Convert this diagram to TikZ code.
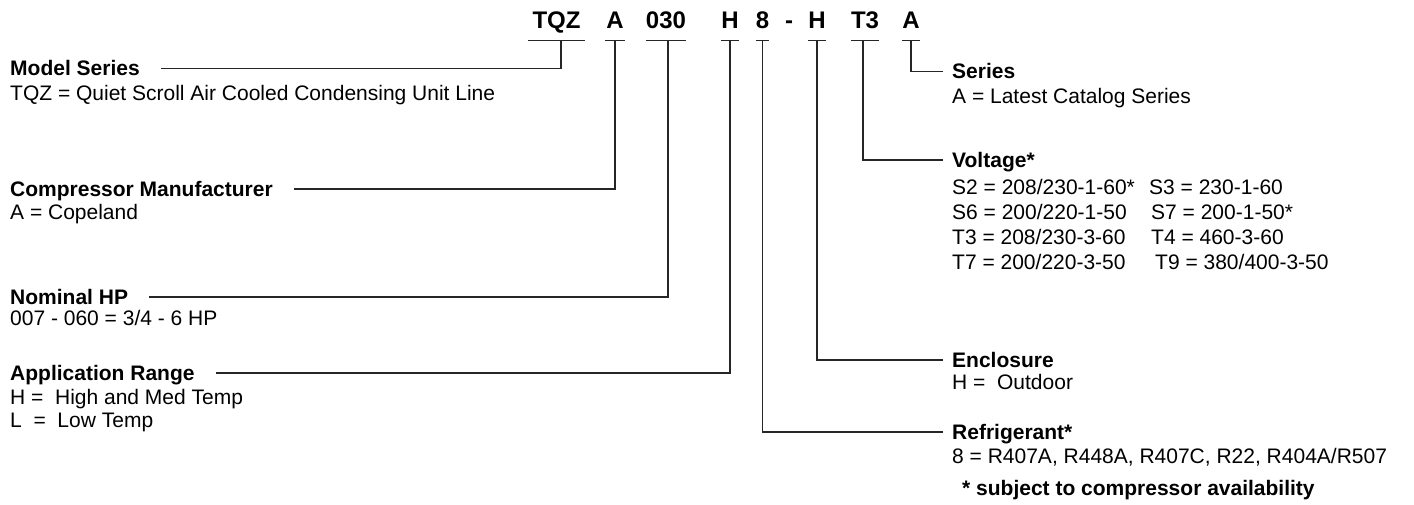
\documentclass[tikz,border=0pt]{standalone}
\usepackage{fontspec}
\setmainfont{Liberation Sans}
\tikzset{
  codetxt/.style={font=\fontsize{24}{24}\selectfont\bfseries,inner sep=0pt,anchor=base,text depth=11.5pt},
  headtxt/.style={font=\fontsize{21}{24}\selectfont\bfseries,inner sep=0pt,anchor=base west,text height=15pt,text depth=0pt},
  valtxt/.style={font=\fontsize{21}{24}\selectfont,inner sep=0pt,anchor=base west},
  lead/.style={line width=1.3pt,draw=black!85},
}
\begin{document}
\begin{tikzpicture}[x=1pt,y=-1pt]
\useasboundingbox (0,0) rectangle (1414,505);
% model number
\node[codetxt,minimum width=57pt] (cTQZ) at (556.5,28.5) {TQZ};
\node[codetxt,minimum width=20pt] (cMfr) at (615,28.5) {A};
\node[codetxt,minimum width=38pt] (cHP) at (666,28.5) {030};
\node[codetxt,minimum width=14pt] (cApp) at (730,28.5) {H};
\node[codetxt,minimum width=13pt] (cRef) at (762.5,28.5) {8};
\node[codetxt] (cDash) at (789,28.5) {-};
\node[codetxt,minimum width=16pt] (cEnc) at (817,28.5) {H};
\node[codetxt,minimum width=24pt] (cVolt) at (865,28.5) {T3};
\node[codetxt,minimum width=18pt] (cSer) at (911,28.5) {A};
\foreach \c in {cTQZ,cMfr,cHP,cApp,cRef,cEnc,cVolt,cSer}{\draw[lead] (\c.south west)--(\c.south east);}
% left column
\node[headtxt] (hModel) at (10,76) {Model Series};
\node[valtxt] (vModel) at (10,101) {TQZ = Quiet Scroll Air Cooled Condensing Unit Line};
\node[headtxt] (hMfr) at (10,196.5) {Compressor Manufacturer};
\node[valtxt] (vMfr) at (10,219.5) {A = Copeland};
\node[headtxt] (hHP) at (10,304.5) {Nominal HP};
\node[valtxt] (vHP) at (10,325.5) {007 - 060 = 3/4 - 6 HP};
\node[headtxt] (hApp) at (10,380.5) {Application Range};
\node[valtxt] (vAppH) at (10,404.5) {H =\ \ High and Med Temp};
\node[valtxt] (vAppL) at (10,427.5) {L\ \ =\ \ Low Temp};
% right column
\node[headtxt] (hSer) at (952,79) {Series};
\node[valtxt] (vSer) at (952,103.5) {A = Latest Catalog Series};
\node[headtxt] (hVolt) at (952,167.5) {Voltage*};
\node[valtxt] (vS2) at (952,194.5) {S2 = 208/230-1-60*};\node[valtxt] (vS3) at (1149,194.5) {S3 = 230-1-60};
\node[valtxt] (vS6) at (952,219.5) {S6 = 200/220-1-50};\node[valtxt] (vS7) at (1151,219.5) {S7 = 200-1-50*};
\node[valtxt] (vT3) at (952,244.5) {T3 = 208/230-3-60};\node[valtxt] (vT4) at (1151,244.5) {T4 = 460-3-60};
\node[valtxt] (vT7) at (952,269.5) {T7 = 200/220-3-50};\node[valtxt] (vT9) at (1155,269.5) {T9 = 380/400-3-50};
\node[headtxt] (hEnc) at (952,367.5) {Enclosure};
\node[valtxt] (vEnc) at (952,389.5) {H =\ \ Outdoor};
\node[headtxt] (hRef) at (952,439.5) {Refrigerant*};
\node[valtxt] (vRef) at (952,463.5) {8 = R407A, R448A, R407C, R22, R404A/R507};
\node[headtxt] (hNote) at (962,495.5) {* subject to compressor availability};
% leaders
\draw[lead,shorten >=21pt] ([xshift=4.5pt]cTQZ.south) |- (hModel.east);
\draw[lead,shorten >=21pt] (cMfr.south) |- (hMfr.east);
\draw[lead,shorten >=21pt] ([xshift=2pt]cHP.south) |- (hHP.east);
\draw[lead,shorten >=21pt] (cApp.south) |- (hApp.east);
\draw[lead,shorten >=9pt] (cSer.south) |- (hSer.west);
\draw[lead,shorten >=9pt] ([xshift=-2pt]cVolt.south) |- (hVolt.west);
\draw[lead,shorten >=9pt] (cEnc.south) |- (hEnc.west);
\draw[lead,shorten >=9pt] (cRef.south) |- (hRef.west);
\end{tikzpicture}
\end{document}
